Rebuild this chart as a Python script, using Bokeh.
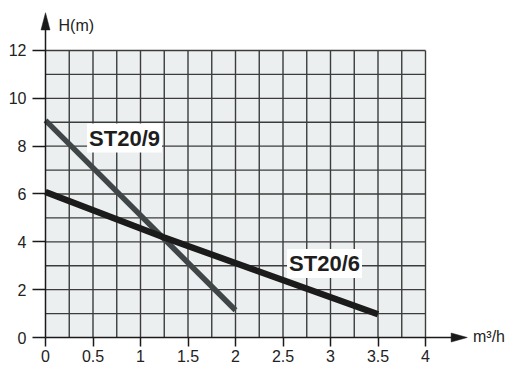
import numpy as np
from bokeh.plotting import figure
from bokeh.models import Range1d, FixedTicker, Label
from bokeh.embed import file_html
from bokeh.resources import INLINE

# ---------------- data ----------------
series_names = ["ST20/9", "ST20/6"]
st20_9_q = [0.0, 2.0]            # flow m3/h
st20_9_h = [9.08, 1.14]          # head m
st20_6_q = [0.0, 1.25, 3.5]
st20_6_h = [6.08, 4.18, 0.97]

x_ticks = [0, 0.5, 1, 1.5, 2, 2.5, 3, 3.5, 4]
x_tick_labels = ["0", "0.5", "1", "1.5", "2", "2.5", "3", "3.5", "4"]
y_ticks = [0, 2, 4, 6, 8, 10, 12]
y_tick_labels = ["0", "2", "4", "6", "8", "10", "12"]
x_axis_title = "m³/h"
y_axis_title = "H(m)"

X_MAX = 4.0
Y_MAX = 12.0
grid_x = [0.25 * i for i in range(1, 17)]
grid_y = [1.0 * i for i in range(1, 13)]

# ---------------- layout (pixel mapping) ----------------
W, H = 508, 365
PX_X = 95.0        # pixels per m3/h
PX_Y = 23.917      # pixels per m
X0_PX = 45.0       # x=0 position inside the canvas
Y0_PX = 337.0      # y=0 position inside the canvas (from top)

x_range = Range1d(-X0_PX / PX_X, (W - X0_PX) / PX_X)
y_range = Range1d(-(H - Y0_PX) / PX_Y, Y0_PX / PX_Y)

p = figure(width=W, height=H, x_range=x_range, y_range=y_range,
           output_backend="svg", toolbar_location=None,
           min_border=0, min_border_left=0, min_border_right=0,
           min_border_top=0, min_border_bottom=0)
p.title.visible = False
p.outline_line_color = None
p.background_fill_color = "white"
p.border_fill_color = "white"
p.xgrid.visible = False
p.ygrid.visible = False

FONT = "Liberation Sans"
GRID_COLOR = "#3c3c3c"

# plot area background
p.quad(left=[0], right=[X_MAX], bottom=[0], top=[Y_MAX],
       fill_color="#eceff0", line_color=None)

# grid lines
p.segment(x0=grid_x, y0=[0] * len(grid_x), x1=grid_x, y1=[Y_MAX] * len(grid_x),
          line_color=GRID_COLOR, line_width=1.4)
p.segment(x0=[0] * len(grid_y), y0=grid_y, x1=[X_MAX] * len(grid_y), y1=grid_y,
          line_color=GRID_COLOR, line_width=1.4)

# curves
p.line(st20_9_q, st20_9_h, line_color="#404547", line_width=5.5, line_cap="butt")
p.line(st20_6_q, st20_6_h, line_color="#1b1b1b", line_width=6.5, line_cap="butt")

# axes
for ax in (p.xaxis[0], p.yaxis[0]):
    ax.fixed_location = 0
    ax.axis_line_color = "#1a1a1a"
    ax.axis_line_width = 1.5
    ax.major_tick_line_color = "#1a1a1a"
    ax.major_tick_line_width = 1.5
    ax.major_tick_in = 0
    ax.minor_tick_line_color = None
    ax.major_label_text_font = FONT
    ax.major_label_text_color = "#222222"

p.xaxis.ticker = FixedTicker(ticks=x_ticks)
p.xaxis.major_label_overrides = {float(t): l for t, l in zip(x_ticks, x_tick_labels)}
p.xaxis.bounds = (0, 4.3)
p.xaxis.major_tick_out = 9
p.xaxis.major_label_standoff = 3
p.xaxis.major_label_text_font_size = "16px"

p.yaxis.ticker = FixedTicker(ticks=y_ticks)
p.yaxis.major_label_overrides = {float(t): l for t, l in zip(y_ticks, y_tick_labels)}
p.yaxis.bounds = (0, 13.0)
p.yaxis.major_tick_out = 13
p.yaxis.major_label_standoff = 6
p.yaxis.major_label_text_font_size = "16px"

# arrow heads
ax_tip, ax_base, ax_half = 4.44, 4.27, 4.5 / PX_Y
ay_tip, ay_base, ay_half = 13.58, 12.86, 4.5 / PX_X
p.patches(xs=[[ax_tip, ax_base, ax_base], [0, -ay_half, ay_half]],
          ys=[[0, ax_half, -ax_half], [ay_tip, ay_base, ay_base]],
          fill_color="#1a1a1a", line_color="#1a1a1a", line_width=0.5)

# axis titles
p.add_layout(Label(x=0.137, y=13.05, text=y_axis_title, text_font=FONT,
                   text_font_size="16px", text_color="#222222",
                   text_baseline="middle", text_align="left"))
p.add_layout(Label(x=4.5, y=0.05, text=x_axis_title, text_font=FONT,
                   text_font_size="16px", text_color="#222222",
                   text_baseline="middle", text_align="left"))

# series labels
label_pos = {"ST20/9": (0.832, 8.34), "ST20/6": (2.937, 3.09)}
for name in series_names:
    lx, ly = label_pos[name]
    p.add_layout(Label(x=lx, y=ly, text=name, text_font=FONT,
                       text_font_size="22px", text_font_style="bold",
                       text_color="#1e1e1e", text_align="center",
                       text_baseline="middle", background_fill_color="white",
                       padding=2))

open("out.html", "w").write(file_html(p, INLINE))
